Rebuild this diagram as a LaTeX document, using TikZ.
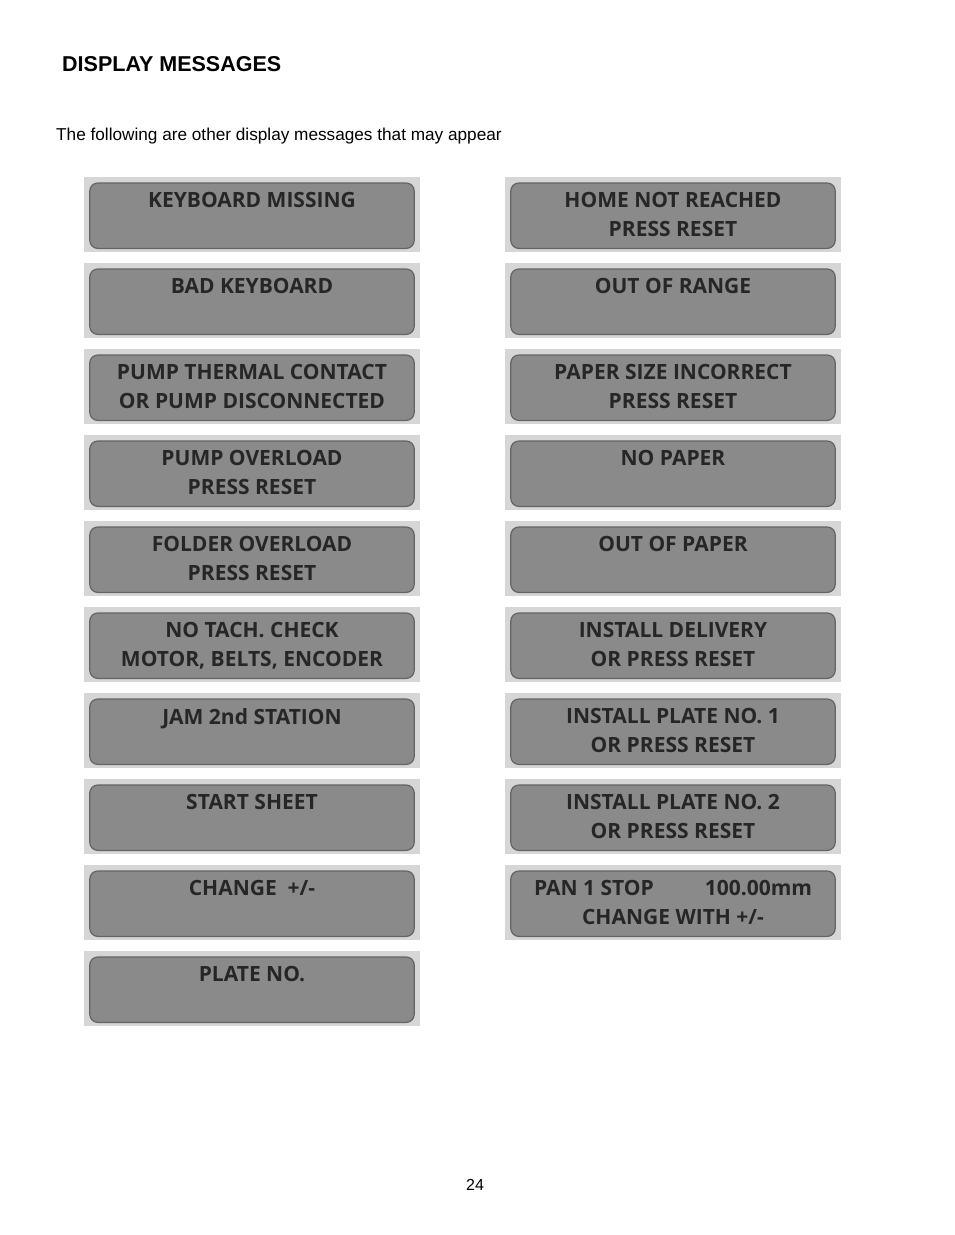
\documentclass[tikz,border=0pt]{standalone}
\usepackage{fontspec}
\setmainfont{Liberation Sans}
\newfontfamily\lcdfont{Open Sans}
\definecolor{panelgray}{RGB}{214,214,214}
\definecolor{lcdgray}{RGB}{138,138,138}
\definecolor{lcdedge}{RGB}{100,100,100}
\definecolor{lcdtext}{RGB}{38,38,38}
\begin{document}
\begin{tikzpicture}[x=1pt,y=-1pt,
  panel/.style={fill=panelgray,minimum width=336pt,minimum height=75pt,inner sep=0pt,anchor=north},
  lcd/.style={fill=lcdgray,draw=lcdedge,line width=1.2pt,rounded corners=8pt},
  msg/.style={font=\lcdfont\bfseries\fontsize{21}{29}\selectfont,align=center,text=lcdtext,anchor=north,inner sep=0pt}]
\useasboundingbox[fill=white] (0,0) rectangle (954,1235);
\node[anchor=base west,inner sep=0pt,font=\bfseries\fontsize{21.5}{24}\selectfont] (title) at (62,71.5) {DISPLAY MESSAGES};
\node[anchor=base west,inner sep=0pt,font=\fontsize{17.2}{20}\selectfont] (intro) at (56,140) {The following are other display messages that may appear};
% left column
\foreach \txt [count=\i] in {KEYBOARD MISSING, BAD KEYBOARD, {PUMP THERMAL CONTACT\\OR PUMP DISCONNECTED},
  {PUMP OVERLOAD\\PRESS RESET}, {FOLDER OVERLOAD\\PRESS RESET}, {NO TACH. CHECK\\MOTOR, BELTS, ENCODER},
  JAM 2nd STATION, START SHEET, {CHANGE\ \ +/-}, PLATE NO.} {
  \node[panel] (l\i) at (252,{177+86*(\i-1)}) {};
  \draw[lcd] ([shift={(6,6)}]l\i.north west) rectangle ([shift={(-6,-4)}]l\i.south east);
  \node[msg] (lm\i) at ([yshift=-15.5pt]l\i.north) {\txt};
}
% right column
\foreach \txt [count=\i] in {{HOME NOT REACHED\\PRESS RESET}, OUT OF RANGE, {PAPER SIZE INCORRECT\\PRESS RESET},
  NO PAPER, OUT OF PAPER, {INSTALL DELIVERY\\OR PRESS RESET}, {INSTALL PLATE NO. 1\\OR PRESS RESET},
  {INSTALL PLATE NO. 2\\OR PRESS RESET}, {PAN 1 STOP\hspace{51pt}100.00mm\\CHANGE WITH +/-}} {
  \node[panel] (r\i) at (673,{177+86*(\i-1)}) {};
  \draw[lcd] ([shift={(6,6)}]r\i.north west) rectangle ([shift={(-6,-4)}]r\i.south east);
  \node[msg] (rm\i) at ([yshift=-15.5pt]r\i.north) {\txt};
}
\node[anchor=base,inner sep=0pt,font=\fontsize{16}{19}\selectfont] (page) at (475,1190) {24};
\end{tikzpicture}
\end{document}
